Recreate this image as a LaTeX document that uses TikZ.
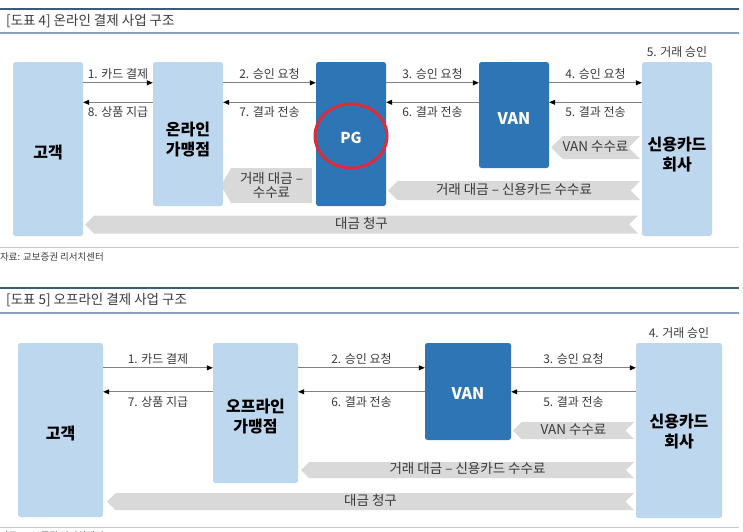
\documentclass[tikz,border=0pt]{standalone}
\usepackage{fontspec}
\setmainfont{Noto Sans CJK KR}
\usetikzlibrary{arrows.meta}
\usetikzlibrary{positioning}
\usetikzlibrary{shapes.symbols}

\definecolor{boxlight}{HTML}{BDD7EE}
\definecolor{boxdark}{HTML}{2E75B6}
\definecolor{feegray}{HTML}{D9D9D9}
\definecolor{rulebar}{HTML}{3E5A7A}
\definecolor{rulethin}{HTML}{8EA0B5}
\definecolor{rulesep}{HTML}{C8C8C8}
\definecolor{linkgray}{HTML}{808080}
\definecolor{textgray}{HTML}{3A3A3A}
\definecolor{ringred}{HTML}{DE2B3A}

% box text sits a little below the middle
\newcommand{\sinktext}[2]{\raisebox{-#1}[\height][\depth]{#2}}

\tikzset {
  % the parties of a payment
  party/.style = {
    rectangle,
    rounded corners = 2.5pt,
    inner sep = 0,
    align = center,
    font = \fontsize{16}{20}\selectfont\bfseries
  },
  member/.style = {
    party,
    fill = boxlight,
    text = black
  },
  hub/.style = {
    party,
    fill = boxdark,
    text = white
  },
  % grey notched arrow, money going back
  fee/.style = {
    signal,
    signal to = west,
    signal from = east,
    fill = feegray,
    inner sep = 0,
    text height = 9pt,
    text depth = 2pt,
    align = center,
    text = textgray,
    font = \fontsize{13.5}{14}\selectfont
  },
  % message between two parties
  msg/.style = {
    draw = linkgray,
    line width = 0.8pt,
    -{Triangle[length=6pt,width=5pt,color=black]}
  },
  lbl/.style = {
    inner sep = 1pt,
    text = textgray,
    font = \fontsize{12}{14}\selectfont
  },
  caption/.style = {
    anchor = west,
    inner sep = 0,
    text = textgray,
    font = \fontsize{13.5}{15}\selectfont
  },
  source/.style = {
    anchor = west,
    inner sep = 0,
    text = textgray,
    font = \fontsize{9.5}{11}\selectfont
  }
}

\begin{document}
\begin{tikzpicture}[x=1pt, y=-1pt]
  \useasboundingbox (0,0) rectangle (743,531);

  % [도표 4]
  \draw[line width=2.5pt, rulebar] (0,9) -- (739,9);
  \node[caption] (title4) at (6,21) {[도표 4] 온라인 결제 사업 구조};
  \draw[line width=1.2pt, rulethin] (0,33) -- (739,33);

  \node[fee, signal from=nowhere, signal pointer angle=120, text height=,
    text depth=, minimum width=91, minimum height=35] (net4) at (271.5,185.5) {거래 대금 –\\수수료};
  \node[fee, minimum width=89, minimum height=23] (vanfee4) at (595.5,147.5) {VAN 수수료};
  \node[fee, minimum width=252, minimum height=19] (settle4) at (514,190.5) {거래 대금 – 신용카드 수수료};
  \node[fee, minimum width=553, minimum height=18] (bill4) at (361.5,224.5) {대금 청구};

  \node[member, minimum width=70, minimum height=174] (cust4) at (48,149) {\sinktext{4pt}{고객}};
  \node[member, minimum width=70, minimum height=144] (shop4) at (188,134)
    {\sinktext{6pt}{온라인}\\\sinktext{6pt}{가맹점}};
  \node[hub, minimum width=70, minimum height=144, font=\fontsize{15}{18}\selectfont\bfseries] (pg) at (351,134)
    {\sinktext{4pt}{PG}};
  \node[hub, minimum width=70, minimum height=106] (van4) at (514,115) {\sinktext{4pt}{VAN}};
  \node[member, minimum width=70, minimum height=174] (card4) at (677,149)
    {\sinktext{5pt}{신용카드}\\\sinktext{5pt}{회사}};
  \node[lbl, above=3pt of card4] (ok4) {5. 거래 승인};

  \draw[line width=3pt, ringred] ([yshift=-2]pg.center) ellipse (36pt and 32pt);

  \draw[msg] ([yshift=-21]cust4.north east) -- ([yshift=-21]shop4.north west)
    node[lbl, midway, above=2pt] {1. 카드 결제};
  \draw[msg] ([yshift=-40.5]shop4.north west) -- ([yshift=-40.5]cust4.north east)
    node[lbl, midway, below=3pt] {8. 상품 지급};
  \draw[msg] ([yshift=-21]shop4.north east) -- ([yshift=-21]pg.north west)
    node[lbl, midway, above=2pt] {2. 승인 요청};
  \draw[msg] ([yshift=-40.5]pg.north west) -- ([yshift=-40.5]shop4.north east)
    node[lbl, midway, below=3pt] {7. 결과 전송};
  \draw[msg] ([yshift=-21]pg.north east) -- ([yshift=-21]van4.north west)
    node[lbl, midway, above=2pt] {3. 승인 요청};
  \draw[msg] ([yshift=-40.5]van4.north west) -- ([yshift=-40.5]pg.north east)
    node[lbl, midway, below=3pt] {6. 결과 전송};
  \draw[msg] ([yshift=-21]van4.north east) -- ([yshift=-21]card4.north west)
    node[lbl, midway, above=2pt] {4. 승인 요청};
  \draw[msg] ([yshift=-40.5]card4.north west) -- ([yshift=-40.5]van4.north east)
    node[lbl, midway, below=3pt] {5. 결과 전송};

  \draw[line width=1pt, rulesep] (0,247) -- (739,247);
  \node[source] (src4) at (0,257) {자료: 교보증권 리서치센터};

  % [도표 5]
  \draw[line width=2.5pt, rulebar] (0,288) -- (739,288);
  \node[caption] (title5) at (6,300) {[도표 5] 오프라인 결제 사업 구조};
  \draw[line width=1.2pt, rulethin] (0,313) -- (739,313);

  \node[fee, minimum width=121, minimum height=17] (vanfee5) at (573.5,430.5) {VAN 수수료};
  \node[fee, minimum width=333, minimum height=16] (settle5) at (467.5,470) {거래 대금 – 신용카드 수수료};
  \node[fee, minimum width=527, minimum height=17] (bill5) at (370.5,501.5) {대금 청구};

  \node[member, minimum width=85, minimum height=174] (cust5) at (60.5,430) {\sinktext{3pt}{고객}};
  \node[member, minimum width=85, minimum height=140] (shop5) at (255.5,413)
    {\sinktext{3pt}{오프라인}\\\sinktext{3pt}{가맹점}};
  \node[hub, minimum width=86, minimum height=97] (van5) at (468,391.5) {\sinktext{2pt}{VAN}};
  \node[member, minimum width=86, minimum height=175] (card5) at (679,430.5)
    {\sinktext{1pt}{신용카드}\\\sinktext{1pt}{회사}};
  \node[lbl, above=3pt of card5] (ok5) {4. 거래 승인};

  \draw[msg] ([yshift=-25]cust5.north east) -- ([yshift=-25]shop5.north west)
    node[lbl, midway, above=2pt] {1. 카드 결제};
  \draw[msg] ([yshift=-49]shop5.north west) -- ([yshift=-49]cust5.north east)
    node[lbl, midway, below=3pt] {7. 상품 지급};
  \draw[msg] ([yshift=-25]shop5.north east) -- ([yshift=-25]van5.north west)
    node[lbl, midway, above=2pt] {2. 승인 요청};
  \draw[msg] ([yshift=-49]van5.north west) -- ([yshift=-49]shop5.north east)
    node[lbl, midway, below=3pt] {6. 결과 전송};
  \draw[msg] ([yshift=-25]van5.north east) -- ([yshift=-25]card5.north west)
    node[lbl, midway, above=2pt] {3. 승인 요청};
  \draw[msg] ([yshift=-49]card5.north west) -- ([yshift=-49]van5.north east)
    node[lbl, midway, below=3pt] {5. 결과 전송};

  \draw[line width=1pt, rulesep] (0,527) -- (739,527);
  \node[source] (src5) at (0,536) {자료: 교보증권 리서치센터};
\end{tikzpicture}
\end{document}
